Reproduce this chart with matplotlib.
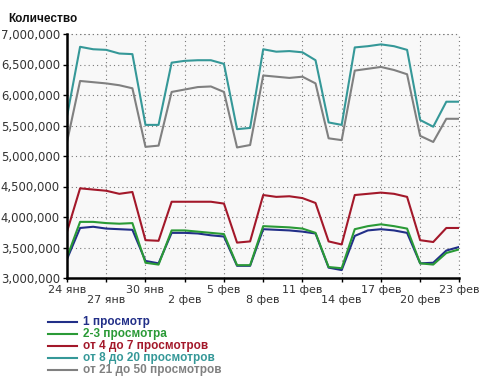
import numpy as np
import pandas as pd
import matplotlib
matplotlib.use("Agg")
import matplotlib.pyplot as plt
from matplotlib.lines import Line2D
from matplotlib.ticker import FuncFormatter

# ---------- data ----------
dates = pd.date_range("2010-01-24", periods=31, freq="D")

one_view = [3.31, 3.82, 3.84, 3.81, 3.80, 3.79, 3.28, 3.24, 3.74, 3.74,
            3.73, 3.70, 3.68, 3.20, 3.20, 3.80, 3.79, 3.78, 3.76, 3.73,
            3.17, 3.13, 3.69, 3.78, 3.80, 3.78, 3.74, 3.24, 3.25, 3.45, 3.51]
two_three = [3.34, 3.92, 3.92, 3.90, 3.89, 3.90, 3.25, 3.22, 3.78, 3.78,
             3.76, 3.74, 3.72, 3.21, 3.21, 3.85, 3.84, 3.83, 3.81, 3.74,
             3.18, 3.16, 3.80, 3.85, 3.88, 3.85, 3.81, 3.24, 3.22, 3.41, 3.47]
four_seven = [3.76, 4.47, 4.45, 4.43, 4.38, 4.41, 3.62, 3.61, 4.25, 4.25,
              4.25, 4.25, 4.22, 3.58, 3.60, 4.36, 4.33, 4.34, 4.31, 4.23,
              3.60, 3.55, 4.36, 4.38, 4.40, 4.38, 4.33, 3.62, 3.59, 3.82, 3.82]
eight_twenty = [5.65, 6.79, 6.75, 6.74, 6.68, 6.67, 5.51, 5.51, 6.53, 6.56,
                6.57, 6.57, 6.51, 5.44, 5.46, 6.75, 6.71, 6.72, 6.70, 6.57,
                5.55, 5.51, 6.78, 6.80, 6.83, 6.80, 6.74, 5.59, 5.48, 5.89, 5.89]
twentyone_fifty = [5.23, 6.23, 6.21, 6.19, 6.16, 6.11, 5.15, 5.17, 6.05, 6.09,
                   6.13, 6.14, 6.05, 5.14, 5.18, 6.32, 6.30, 6.28, 6.30, 6.19,
                   5.29, 5.26, 6.40, 6.43, 6.46, 6.41, 6.34, 5.33, 5.23, 5.61, 5.61]

series_labels = ["1 просмотр", "2-3 просмотра", "от 4 до 7 просмотров",
                 "от 8 до 20 просмотров", "от 21 до 50 просмотров"]
series_colors = ["#222f88", "#2a9a36", "#a3182a", "#359898", "#808080"]

tick_labels = ["24 янв", "27 янв", "30 янв", "2 фев", "5 фев", "8 фев",
               "11 фев", "14 фев", "17 фев", "20 фев", "23 фев"]

W, H = 479, 379
fig = plt.figure(figsize=(W / 100, H / 100), dpi=100)
ax = fig.add_axes([67 / W, 1 - 278 / H, (459.4 - 67) / W, (278 - 34) / H])
ax.set_facecolor("#f8f8f8")

all_series = [one_view, two_three, four_seven, eight_twenty, twentyone_fifty]
for vals, col in zip(all_series, series_colors):
    ax.plot(dates, np.array(vals) * 1e6, color=col, lw=1.5, zorder=3)

ax.set_xlim(dates[0], dates[-1])
ax.set_ylim(3e6, 7e6)
ax.set_yticks(np.arange(3e6, 7e6 + 1, 5e5))
ax.yaxis.set_major_formatter(FuncFormatter(lambda v, p: f"{int(v):,}"))

# two rows of date labels: major on top row, minor on the lower row
tick_dates = dates[::3]
ax.set_xticks(tick_dates[::2])
ax.set_xticklabels(tick_labels[::2])
ax.set_xticks(tick_dates[1::2], minor=True)
ax.set_xticklabels(tick_labels[1::2], minor=True)

ax.tick_params(axis="x", which="major", length=3, width=1, pad=2,
               labelsize=8, labelcolor="#333333")
ax.tick_params(axis="x", which="minor", length=3, width=1, pad=9.5,
               labelsize=8, labelcolor="#333333")
ax.tick_params(axis="y", length=3, width=1, pad=2, labelsize=8.4,
               labelcolor="#333333")

grid_style = dict(color="#7a7a7a", lw=0.8, linestyle=(0, (1, 2.8)))
ax.grid(True, which="both", axis="x", **grid_style)
ax.grid(True, which="major", axis="y", **grid_style)
ax.set_axisbelow(True)

for s in ["top", "right"]:
    ax.spines[s].set_visible(False)
for s in ["left", "bottom"]:
    ax.spines[s].set_linewidth(1.8)
    ax.spines[s].set_color("black")
    ax.spines[s].set_zorder(4)

# edge grid lines (top and right) drawn dotted like the reference
ax.axhline(7e6, zorder=2, clip_on=False, **grid_style)
ax.axvline(dates[-1], zorder=2, clip_on=False, **grid_style)

fig.text(8 / W, 1 - 22 / H, "Количество", family="Liberation Sans",
         fontweight="bold", fontsize=8.5, color="#111111", va="baseline")

# legend below the chart
for k, (lab, col) in enumerate(zip(series_labels, series_colors)):
    y = 1 - (322 + 11.9 * k) / H
    fig.add_artist(Line2D([48 / W, 77 / W], [y, y], color=col, lw=1.5))
    fig.text(83 / W, y, lab, color=col, family="Liberation Sans",
             fontweight="bold", fontsize=8.5, va="center")

fig.savefig("out.png", dpi=100)
